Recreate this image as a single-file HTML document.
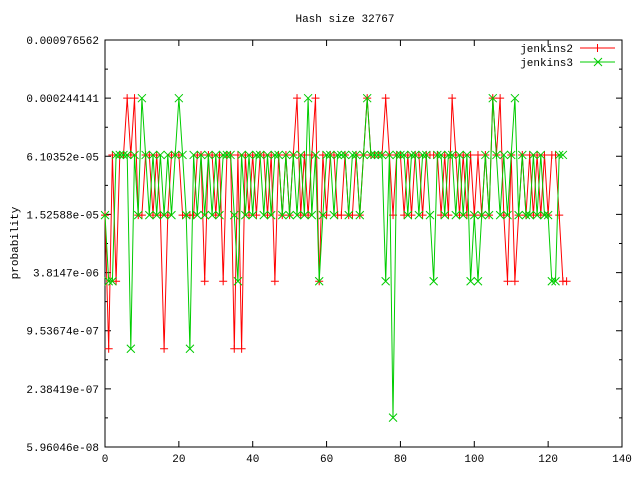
<!DOCTYPE html>
<html><head><meta charset="utf-8"><style>
html,body{margin:0;padding:0;background:#fff;}
svg{display:block;font-family:"Liberation Mono",monospace;font-size:11px;}
</style></head><body>
<svg id="chart" width="640" height="480" viewBox="0 0 640 480">
<text x="345" y="22" text-anchor="middle">Hash size 32767</text>
<text transform="translate(18,243) rotate(-90)" text-anchor="middle">probability</text>
<rect x="105" y="40" width="517" height="407" fill="none" stroke="#000" stroke-width="1"/>
<g id="axes"></g>
<g id="series"></g>
<g>
<g>
<text x="573" y="52" text-anchor="end">jenkins2</text>
<line x1="580" y1="48" x2="615" y2="48" stroke="#f00"/>
<path d="M593.5,48h8M597.5,44v8" stroke="#f00"/>
</g>
<g>
<text x="573" y="66" text-anchor="end">jenkins3</text>
<line x1="580" y1="62" x2="615" y2="62" stroke="#0c0"/>
<path d="M594,58l8,8M602,58l-8,8" stroke="#0c0"/>
</g>
</g>
</svg>
<script>
const xTicks = [0, 20, 40, 60, 80, 100, 120, 140];
const yTickValues = [9.765625e-4, 2.44140625e-4, 6.103515625e-5, 1.52587890625e-5, 3.814697265625e-6, 9.5367431640625e-7, 2.384185791015625e-7, 5.9604644775390625e-8];
const yTickLabels = ['0.000976562','0.000244141','6.10352e-05','1.52588e-05','3.8147e-06','9.53674e-07','2.38419e-07','5.96046e-08'];
const jenkins2 = [1.5e-5,6.2e-7,6.3e-5,3.1e-6,6.3e-5,6.3e-5,2.44e-4,6.3e-5,2.44e-4,1.5e-5,1.5e-5,6.3e-5,6.3e-5,1.5e-5,6.3e-5,1.5e-5,6.2e-7,1.5e-5,6.3e-5,6.3e-5,6.3e-5,1.5e-5,1.5e-5,1.5e-5,1.5e-5,6.3e-5,6.3e-5,3.1e-6,6.3e-5,6.3e-5,1.5e-5,6.3e-5,3.1e-6,6.3e-5,6.3e-5,6.2e-7,6.3e-5,6.2e-7,6.3e-5,1.5e-5,6.3e-5,1.5e-5,6.3e-5,6.3e-5,1.5e-5,6.3e-5,3.1e-6,6.3e-5,1.5e-5,6.3e-5,1.5e-5,6.3e-5,2.44e-4,1.5e-5,6.3e-5,1.5e-5,6.3e-5,2.44e-4,3.1e-6,6.3e-5,1.5e-5,6.3e-5,6.3e-5,1.5e-5,1.5e-5,6.3e-5,1.5e-5,1.5e-5,6.3e-5,1.5e-5,6.3e-5,2.44e-4,6.3e-5,6.3e-5,6.3e-5,6.3e-5,2.44e-4,6.3e-5,1.5e-5,6.3e-5,6.3e-5,1.5e-5,6.3e-5,1.5e-5,6.3e-5,6.3e-5,1.5e-5,6.3e-5,6.3e-5,6.3e-5,6.3e-5,1.5e-5,6.3e-5,1.5e-5,2.44e-4,6.3e-5,1.5e-5,6.3e-5,1.5e-5,6.3e-5,1.5e-5,6.3e-5,1.5e-5,6.3e-5,1.5e-5,2.44e-4,6.3e-5,2.44e-4,1.5e-5,3.1e-6,6.3e-5,3.1e-6,1.5e-5,6.3e-5,1.5e-5,6.3e-5,1.5e-5,6.3e-5,1.5e-5,6.3e-5,1.5e-5,6.3e-5,6.3e-5,1.5e-5,3.1e-6,3.1e-6];
const jenkins3 = [1.5e-5,3.1e-6,3.1e-6,6.3e-5,6.3e-5,6.3e-5,6.3e-5,6.2e-7,6.3e-5,1.5e-5,2.44e-4,6.3e-5,1.5e-5,6.3e-5,1.5e-5,6.3e-5,1.5e-5,6.3e-5,1.5e-5,6.3e-5,2.44e-4,6.3e-5,1.5e-5,6.2e-7,6.3e-5,1.5e-5,6.3e-5,1.5e-5,6.3e-5,1.5e-5,6.3e-5,1.5e-5,6.3e-5,6.3e-5,6.3e-5,1.5e-5,3.1e-6,6.3e-5,1.5e-5,6.3e-5,1.5e-5,6.3e-5,6.3e-5,1.5e-5,6.3e-5,1.5e-5,6.3e-5,6.3e-5,1.5e-5,6.3e-5,1.5e-5,6.3e-5,1.5e-5,6.3e-5,1.5e-5,2.44e-4,1.5e-5,6.3e-5,3.1e-6,1.5e-5,6.3e-5,6.3e-5,1.5e-5,6.3e-5,6.3e-5,6.3e-5,1.5e-5,6.3e-5,6.3e-5,1.5e-5,6.3e-5,2.44e-4,6.3e-5,6.3e-5,6.3e-5,6.3e-5,3.1e-6,6.3e-5,1.2e-7,6.3e-5,6.3e-5,6.3e-5,1.5e-5,6.3e-5,6.3e-5,1.5e-5,6.3e-5,6.3e-5,1.5e-5,3.1e-6,6.3e-5,6.3e-5,1.5e-5,6.3e-5,6.3e-5,1.5e-5,6.3e-5,1.5e-5,6.3e-5,3.1e-6,1.5e-5,3.1e-6,1.5e-5,6.3e-5,1.5e-5,2.44e-4,6.3e-5,1.5e-5,6.3e-5,1.5e-5,6.3e-5,2.44e-4,1.5e-5,6.3e-5,1.5e-5,1.5e-5,6.3e-5,1.5e-5,6.3e-5,1.5e-5,1.5e-5,3.1e-6,3.1e-6,6.3e-5,6.3e-5];

const NS = 'http://www.w3.org/2000/svg';
const L = 105, R = 622, T = 40, B = 447;
const xMin = 0, xMax = 140;
const yTop = Math.log2(9.765625e-4), yBot = Math.log2(5.9604644775390625e-8);
function xScale(v){ return L + (v - xMin) / (xMax - xMin) * (R - L); }
function yScale(p){ return T + (yTop - Math.log2(p)) / (yTop - yBot) * (B - T); }
function mk(tag, attrs, parent){
  const e = document.createElementNS(NS, tag);
  for (const k in attrs) e.setAttribute(k, attrs[k]);
  parent.appendChild(e);
  return e;
}
const axes = document.getElementById('axes');
xTicks.forEach(v => {
  const x = xScale(v);
  const t = mk('path', {d:`M${x},${B}v-6M${x},${T}v6`, stroke:'#000'}, axes);
  
  
  const lb = mk('text', {x:x, y:B+15, 'text-anchor':'middle'}, axes);
  lb.textContent = String(v);
  
  
});
yTickValues.forEach((v, i) => {
  const y = yScale(v);
  const t = mk('path', {d:`M${L},${y}h6M${R},${y}h-6`, stroke:'#000'}, axes);
  
  
  if (i < yTickValues.length - 1) {
    const ym = yScale(v / 2);
    const m = mk('path', {d:`M${L},${ym}h3M${R},${ym}h-3`, stroke:'#000'}, axes);
    
    
  }
  const lb = mk('text', {x:L-6, y:y+4, 'text-anchor':'end'}, axes);
  lb.textContent = yTickLabels[i];
  
  
});
const sg = document.getElementById('series');
function drawSeries(vals, color, marker, name){
  const g = mk('g', {}, sg);
  
  
  const pts = vals.map((p, i) => xScale(i).toFixed(1) + ',' + yScale(p).toFixed(1));
  const line = mk('polyline', {points: pts.join(' '), fill:'none', stroke:color, 'stroke-width':1}, g);
  
  
  vals.forEach((p, i) => {
    const x = xScale(i), y = yScale(p);
    const d = marker === '+' ? `M${x-4},${y}h8M${x},${y-4}v8` : `M${x-4},${y-4}l8,8M${x+4},${y-4}l-8,8`;
    const m = mk('path', {d:d, stroke:color, 'stroke-width':1}, g);
    
    
  });
}
drawSeries(jenkins2, '#f00', '+', 'jenkins2');
drawSeries(jenkins3, '#0c0', 'x', 'jenkins3');
</script>
</body></html>
